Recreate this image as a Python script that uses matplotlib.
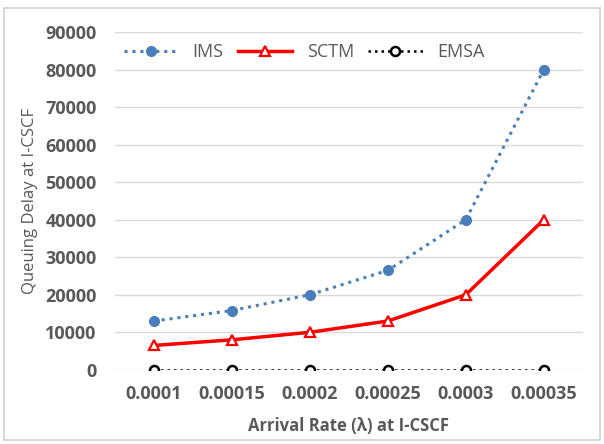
import matplotlib.pyplot as plt
from matplotlib.patches import Rectangle

# data
rates = ["0.0001", "0.00015", "0.0002", "0.00025", "0.0003", "0.00035"]
ims = [13000, 15800, 20000, 26500, 40000, 80000]
sctm = [6500, 8000, 10000, 13000, 20000, 40000]
emsa = [0, 0, 0, 0, 0, 0]
yticks = list(range(0, 90001, 10000))

gray = "#595959"
plt.rcParams['font.family'] = ['Open Sans', 'DejaVu Sans']

fig = plt.figure(figsize=(6.04, 4.44), dpi=100)
ax = fig.add_axes([0.19, 0.167, 0.775, 0.761])

# chart area border
fig.patches.append(Rectangle((0.006, 0.01), 0.988, 0.972, transform=fig.transFigure,
                             fill=False, edgecolor="#d0d0d0", linewidth=1.2))

x = range(len(rates))
ax.plot(x, ims, linestyle=(0, (1, 1.6)), color="#4a7ebb", linewidth=2.2,
        marker="o", markersize=7, label="IMS")
ax.plot(x, sctm, linestyle="-", color="#ff0000", linewidth=2.5,
        marker="^", markersize=7, markerfacecolor="white", markeredgewidth=1.6, label="SCTM")
ax.plot(x, emsa, linestyle=(0, (1, 1.6)), color="black", linewidth=1.8,
        marker="o", markersize=6.5, markerfacecolor="white", markeredgewidth=1.8, label="EMSA")

ax.set_xlim(-0.5, len(rates) - 0.5)
ax.set_ylim(0, 90000)
ax.set_yticks(yticks)
ax.set_xticks(list(x))
ax.set_xticklabels(rates)
ax.grid(axis="y", color="#d9d9d9", linewidth=1)
ax.set_axisbelow(True)
for s in ax.spines.values():
    s.set_visible(False)
ax.tick_params(length=0, labelsize=13, colors=gray)
ax.tick_params(axis="y", pad=13)
ax.tick_params(axis="x", pad=11)
for lbl in ax.get_xticklabels() + ax.get_yticklabels():
    lbl.set_fontweight("bold")

ax.set_xlabel("Arrival Rate (λ) at I-CSCF", fontsize=12, fontweight="bold", color=gray)
ax.xaxis.set_label_coords(0.5, -0.14)
ax.set_ylabel("Queuing Delay at I-CSCF", fontsize=12, color=gray)
ax.yaxis.set_label_coords(-0.165, 0.5)

ax.legend(loc="upper left", bbox_to_anchor=(-0.015, 1.015), ncol=3, frameon=False,
          fontsize=13, labelcolor=gray, handlelength=3.0, columnspacing=0.8, handletextpad=0.8)

fig.savefig("out.png", dpi=100)
